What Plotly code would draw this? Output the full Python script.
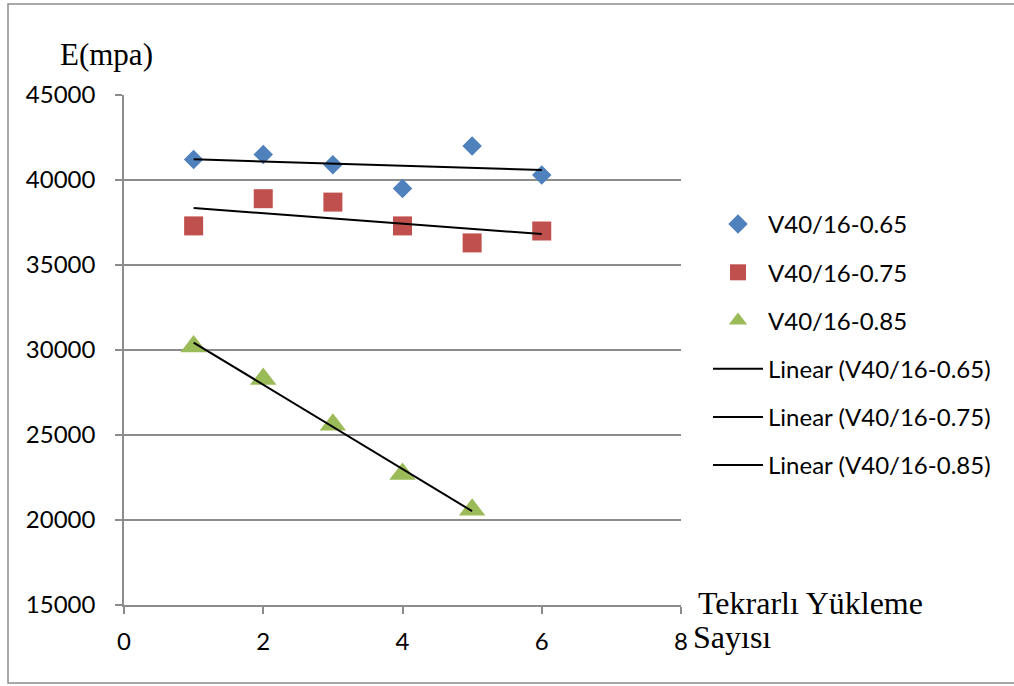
import numpy as np
import plotly.graph_objects as go

# ---- data ----
x_vals = [1, 2, 3, 4, 5, 6]
x_vals_085 = [1, 2, 3, 4, 5]
e_065 = [41200, 41500, 40900, 39500, 42000, 40300]
e_075 = [37300, 38900, 38700, 37300, 36300, 37000]
e_085 = [30200, 28300, 25600, 22700, 20600]
names = ["V40/16-0.65", "V40/16-0.75", "V40/16-0.85"]
y_ticks = [15000, 20000, 25000, 30000, 35000, 40000, 45000]
x_ticks = [0, 2, 4, 6, 8]

colors = ["#4F81BD", "#C0504D", "#9BBB59"]
symbols = ["diamond", "square", "triangle-up"]
sizes = [15, 19, 23]

W, H = 1014, 686
ML, MR, MT, MB = 124, 333, 95, 81
PW, PH = W - ML - MR, H - MT - MB


def px_x(px):
    return (px - ML) / PW


def px_y(py):
    return (H - MB - py) / PH


fig = go.Figure()
series = [(x_vals, e_065), (x_vals, e_075), (x_vals_085, e_085)]
for i, (xs, ys) in enumerate(series):
    fig.add_trace(go.Scatter(
        x=xs, y=ys, mode="markers", name=names[i], legendgroup=f"g{i}",
        marker=dict(symbol=symbols[i], size=sizes[i], color=colors[i],
                    line=dict(width=0)),
    ))
for i, (xs, ys) in enumerate(series):
    k, b = np.polyfit(xs, ys, 1)
    xe = [min(xs), max(xs)]
    fig.add_trace(go.Scatter(
        x=xe, y=[k * v + b for v in xe], mode="lines",
        name=f"Linear ({names[i]})", legendgroup=f"t{i}",
        line=dict(color="black", width=2),
    ))

grid = "#8C8C8C"
fig.update_layout(
    width=W, height=H,
    margin=dict(l=ML, r=MR, t=MT, b=MB, pad=0),
    paper_bgcolor="white", plot_bgcolor="white",
    font=dict(family="Lato", size=24, color="black"),
    showlegend=True,
    legend=dict(
        x=px_x(708), y=px_y(202), xanchor="left", yanchor="top",
        traceorder="grouped", tracegroupgap=14, itemwidth=50,
        font=dict(family="Lato", size=24, color="black"),
        bgcolor="rgba(0,0,0,0)",
    ),
    xaxis=dict(
        range=[0, 8], tickvals=x_ticks, ticktext=[str(v) for v in x_ticks],
        showgrid=False, zeroline=False, showline=True, linecolor=grid,
        linewidth=1.5,
        ticks="outside", ticklen=7, tickwidth=1.5, tickcolor=grid,
        ticklabelstandoff=7,
    ),
    yaxis=dict(
        range=[15000, 45000], tickvals=y_ticks,
        ticktext=[str(v) for v in y_ticks],
        showgrid=True, gridcolor=grid, gridwidth=1.5, zeroline=False,
        showline=True, linecolor=grid, linewidth=1.5,
        ticks="outside", ticklen=7, tickwidth=1.5, tickcolor=grid,
        ticklabelstandoff=15,
    ),
    shapes=[dict(type="rect", xref="paper", yref="paper",
                 x0=px_x(8), x1=px_x(1030), y0=px_y(683), y1=px_y(4),
                 line=dict(color="#8C8C8C", width=1.5), layer="below")],
    annotations=[
        dict(text="E(mpa)", xref="paper", yref="paper", x=px_x(58), y=px_y(54),
             xanchor="left", yanchor="middle", showarrow=False,
             font=dict(family="Liberation Serif", size=31, color="black")),
        dict(text="Tekrarlı Yükleme", xref="paper", yref="paper", x=px_x(696),
             y=px_y(603), xanchor="left", yanchor="middle", showarrow=False,
             font=dict(family="Liberation Serif", size=32, color="black")),
        dict(text="Sayısı", xref="paper", yref="paper", x=px_x(691),
             y=px_y(637), xanchor="left", yanchor="middle", showarrow=False,
             font=dict(family="Liberation Serif", size=32, color="black")),
    ],
)

fig.write_html("out.html")
